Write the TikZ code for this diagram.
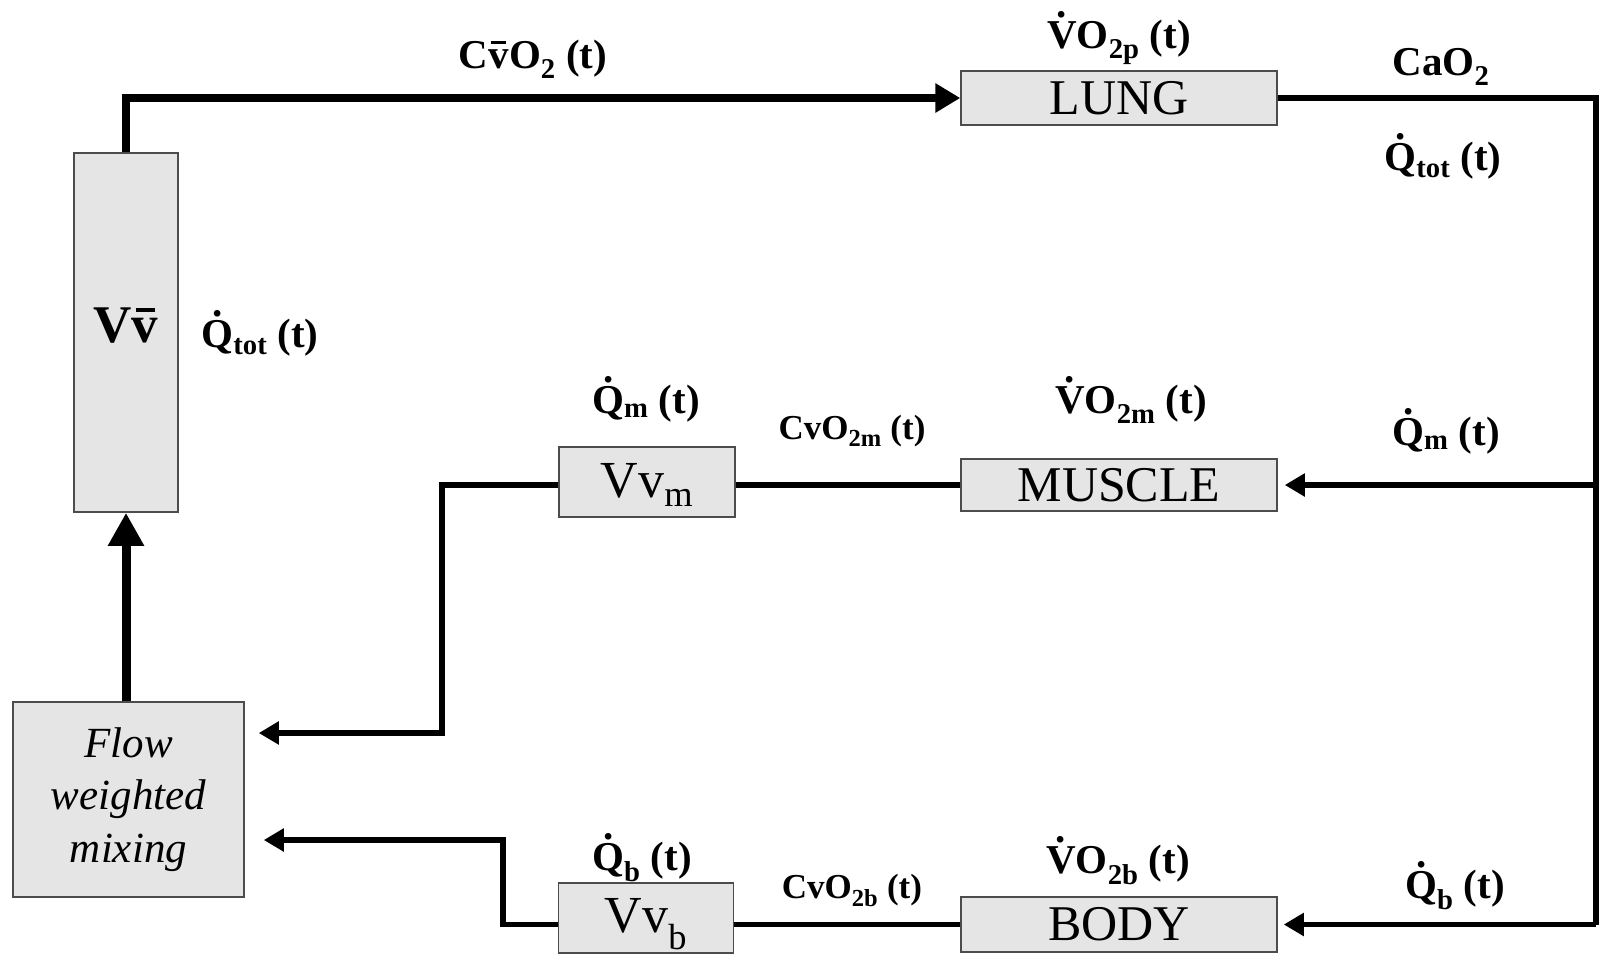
\documentclass[tikz,border=0pt]{standalone}
\usepackage{fontspec}
\setmainfont{Liberation Serif}
\usetikzlibrary{arrows.meta}

\newcommand\dotop[1]{\ooalign{#1\cr\hidewidth\raisebox{.74em}{.}\hidewidth\cr}}
\newcommand\vbarred{\ooalign{v\cr\hidewidth\rule[.58em]{.36em}{.07em}\hidewidth\cr}}

\begin{document}
\begin{tikzpicture}[x=1pt,y=1pt,yscale=-1,
  box/.style={draw=black!70,line width=1.5pt,fill=black!10,inner sep=0pt},
  organ/.style={box,minimum width=316pt,font=\fontsize{50}{60}\selectfont},
  pool/.style={box,text depth=0pt,font=\fontsize{52}{62}\selectfont},
  pipe/.style={line width=5.5pt},
  flow/.style={pipe,-{Triangle[length=20pt,width=22pt]}},
  lbl/.style={anchor=base,inner sep=0pt,font=\fontsize{41}{49}\selectfont\bfseries},
  lblsmall/.style={lbl,font=\fontsize{35}{42}\selectfont\bfseries}]
\useasboundingbox (0,0) rectangle (1600,954);

% compartments
\node[box,minimum width=104pt,minimum height=359pt,font=\fontsize{53}{63}\selectfont\bfseries] (vv) at (126,332.5) {\raisebox{15pt}{V\vbarred}};
\node[box,minimum width=231pt,minimum height=195pt,align=center,font=\fontsize{43}{52.5}\selectfont\itshape] (mix) at (128.5,799.5) {Flow\\weighted\\mixing};
\node[organ,minimum height=54pt] (lung) at (1119,98) {LUNG};
\node[organ,minimum height=52pt] (muscle) at (1119,485) {MUSCLE};
\node[organ,minimum height=55pt] (body) at (1119,924.5) {BODY};
\node[pool,minimum width=176pt,minimum height=70pt] (vvm) at (647,482) {\raisebox{3pt}{Vv\textsubscript{m}}};
\node[pool,minimum width=175pt,minimum height=70pt] (vvb) at (646,918) {\raisebox{5pt}{Vv\textsubscript{b}}};

% corners of the circuit
\coordinate (rt) at (1596,98);
\coordinate (rb) at (1596,924.5);
\coordinate (jm) at (442,733);
\coordinate (jb) at (503,840);

% connectors
\draw[line width=8pt,-{Triangle[length=25pt,width=28pt]}] (vv.north) |- (lung.west);
\draw[pipe] (lung.east) -- (rt) -- (rb);
\draw[flow,shorten >=6pt] (rb) -- (body.east);
\draw[flow,shorten >=7pt] (muscle.east -| rb) -- (muscle.east);
\draw[pipe] (muscle.west) -- (muscle.west -| vvm.east);
\draw[pipe] (body.west) -- (body.west -| vvb.east);
\draw[flow,shorten >=14pt] (muscle.west -| vvm.west) -| (jm) -- (jm -| mix.east);
\draw[flow,shorten >=19pt] (body.west -| vvb.west) -| (jb) -- (jb -| mix.east);
\draw[line width=9pt,-{Triangle[length=33pt,width=34pt]}] (mix.north -| vv) -- (vv.south);

% labels
\node[lbl] (cvbar) at (533,68) {C\vbarred O\textsubscript{2} (t)};
\node[lbl] (vo2p) at (1119,48) {\dotop{V}O\textsubscript{2p} (t)};
\node[lbl] (cao2) at (1441,75) {CaO\textsubscript{2}};
\node[lbl] (qtotr) at (1443,170) {\dotop{Q}\textsubscript{tot} (t)};
\node[lbl] (qtotl) at (260,347) {\dotop{Q}\textsubscript{tot} (t)};
\node[lbl] (qml) at (646,413) {\dotop{Q}\textsubscript{m} (t)};
\node[lblsmall] (cvo2m) at (852,439) {CvO\textsubscript{2m} (t)};
\node[lbl] (vo2m) at (1131,413) {\dotop{V}O\textsubscript{2m} (t)};
\node[lbl] (qmr) at (1446,445) {\dotop{Q}\textsubscript{m} (t)};
\node[lbl] (qbl) at (642,870) {\dotop{Q}\textsubscript{b} (t)};
\node[lblsmall] (cvo2b) at (852,898) {CvO\textsubscript{2b} (t)};
\node[lbl] (vo2b) at (1118,873) {\dotop{V}O\textsubscript{2b} (t)};
\node[lbl] (qbr) at (1455,898) {\dotop{Q}\textsubscript{b} (t)};

\end{tikzpicture}
\end{document}
